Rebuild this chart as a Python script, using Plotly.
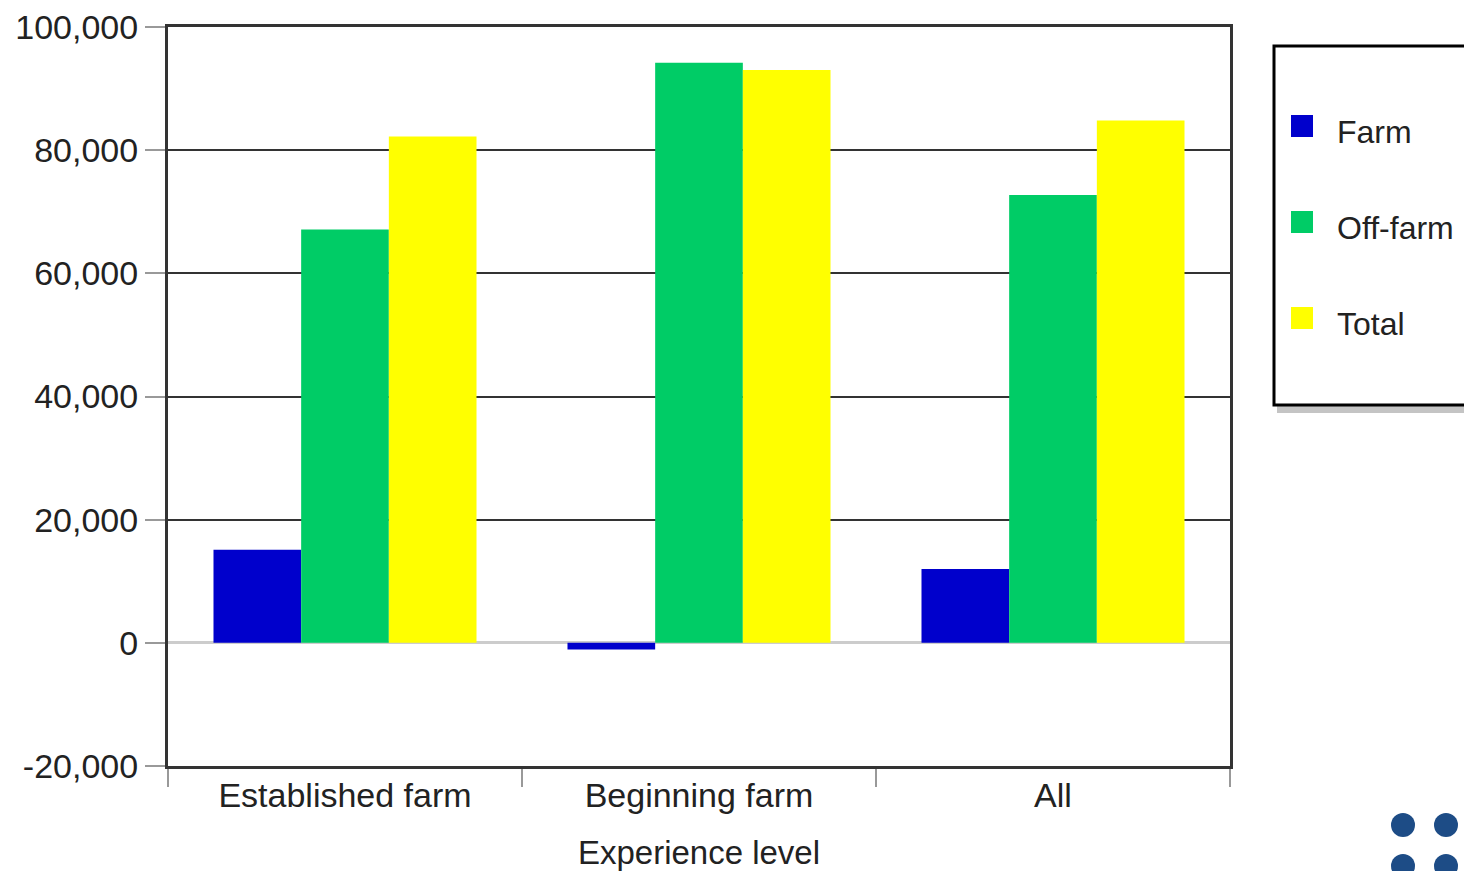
import plotly.graph_objects as go

categories = ["Established farm", "Beginning farm", "All"]
series_names = ["Farm", "Off-farm", "Total"]
farm = [15100, -1100, 12000]
off_farm = [67100, 94200, 72700]
total = [82200, 93000, 84800]
series_values = [farm, off_farm, total]
colors = ["#0000cc", "#00cc66", "#ffff00"]
y_ticks = [-20000, 0, 20000, 40000, 60000, 80000, 100000]
y_tick_labels = ["-20,000", "0", "20,000", "40,000", "60,000", "80,000", "100,000"]

# figure geometry (pixels)
W, H = 1464, 871
L, R, T, B = 168, 1230, 27, 766


def xp(px):
    return (px - L) / (R - L)


def yp(py):
    return (B - py) / (B - T)


FONT = "Liberation Sans, Arial, sans-serif"
TXT = "#222222"
FS = 34

fig = go.Figure()
for name, vals, col in zip(series_names, series_values, colors):
    fig.add_trace(go.Bar(x=categories, y=vals, name=name, marker_color=col,
                         marker_line_width=0, showlegend=False))

shapes = []
annotations = []

# legend box shadow + box
shapes.append(dict(type="rect", xref="paper", yref="paper",
                   x0=xp(1277), x1=xp(1490), y0=yp(413), y1=yp(52),
                   fillcolor="#c4c4c4", line_width=0, layer="above"))
shapes.append(dict(type="rect", xref="paper", yref="paper",
                   x0=xp(1274), x1=xp(1490), y0=yp(405), y1=yp(46),
                   fillcolor="white", line=dict(color="black", width=3), layer="above"))

legend_y = [126, 222, 318]
for name, col, cy in zip(series_names, colors, legend_y):
    shapes.append(dict(type="rect", xref="paper", yref="paper",
                       x0=xp(1291), x1=xp(1313), y0=yp(cy + 11), y1=yp(cy - 11),
                       fillcolor=col, line_width=0, layer="above"))
    annotations.append(dict(text=name, xref="paper", yref="paper",
                            x=xp(1335), y=yp(cy + 6), xanchor="left", yanchor="middle",
                            showarrow=False, font=dict(family=FONT, size=32, color=TXT)))

# corner decoration dots
for cx, cy in [(1403, 825), (1446, 825), (1403, 866), (1446, 866)]:
    shapes.append(dict(type="circle", xref="paper", yref="paper",
                       x0=xp(cx - 12), x1=xp(cx + 12), y0=yp(cy + 12), y1=yp(cy - 12),
                       fillcolor="#1d4c86", line_width=0, layer="above"))

fig.update_layout(
    width=W, height=H, autosize=False,
    margin=dict(l=L, r=W - R, t=T, b=H - B, pad=0, autoexpand=False),
    paper_bgcolor="white", plot_bgcolor="white",
    barmode="group", bargap=0.257, bargroupgap=0,
    font=dict(family=FONT, size=FS, color=TXT),
    shapes=shapes, annotations=annotations,
    showlegend=False,
)
fig.update_yaxes(
    range=[-20000, 100000], tickvals=y_ticks, ticktext=y_tick_labels,
    showgrid=True, gridcolor="#333333", gridwidth=2,
    zeroline=True, zerolinecolor="#cccccc", zerolinewidth=3,
    showline=True, linecolor="#333333", linewidth=3, mirror=True,
    ticks="outside", ticklen=20, tickcolor="#999999", tickwidth=2,
    tickfont=dict(family=FONT, size=FS, color=TXT), automargin=False,
)
fig.update_xaxes(
    showline=True, linecolor="#333333", linewidth=3, mirror=True,
    ticks="outside", tickson="boundaries", ticklen=18, tickcolor="#999999", tickwidth=2,
    tickfont=dict(family=FONT, size=FS, color=TXT), automargin=False,
    ticklabelstandoff=-3,
    title=dict(text="Experience level", font=dict(family=FONT, size=33, color=TXT), standoff=37),
)

fig.write_html("out.html", config={"displayModeBar": False},
               post_script="document.body.style.margin='0';")
